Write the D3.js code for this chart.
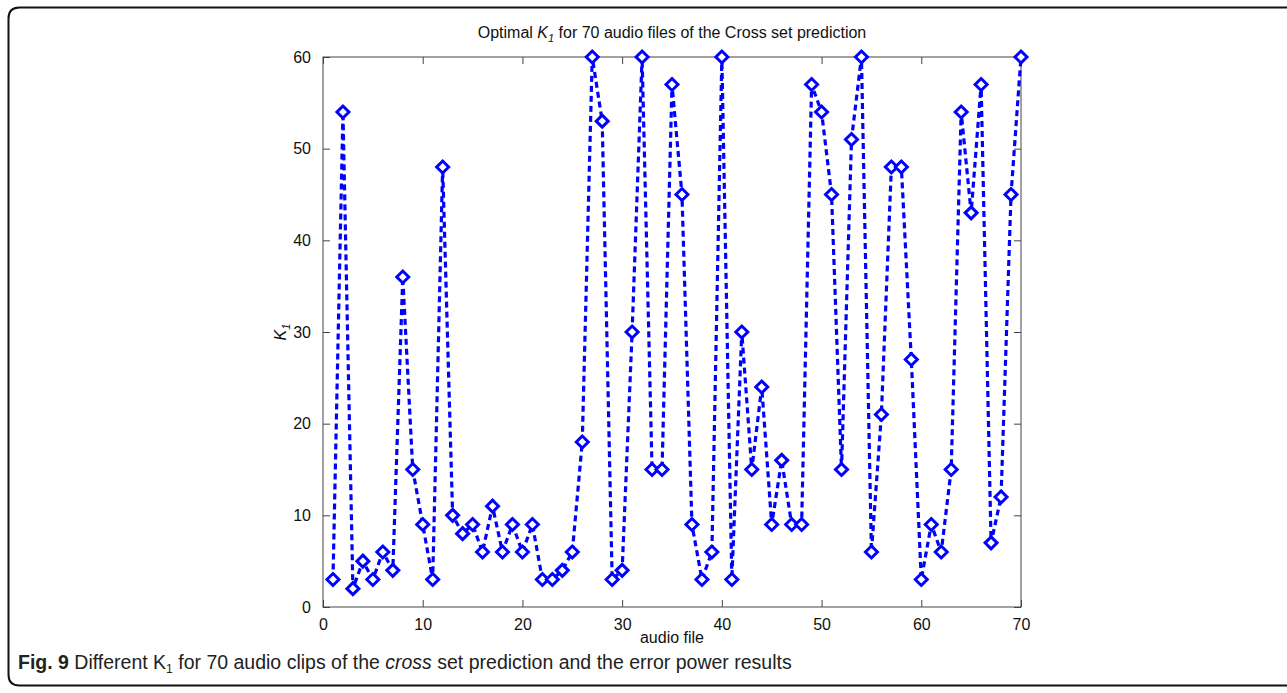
<!DOCTYPE html>
<html>
<head>
<meta charset="utf-8">
<script src="https://cdn.jsdelivr.net/npm/d3@7/dist/d3.min.js"></script>
<style>
  html, body { margin: 0; padding: 0; background: #fff; }
  svg { display: block; }
</style>
</head>
<body>
<svg id="chart" width="1287" height="693"></svg>
<script>
const audioFiles = d3.range(1, 71);
const k1Values = [3, 54, 2, 5, 3, 6, 4, 36, 15, 9,
                  3, 48, 10, 8, 9, 6, 11, 6, 9, 6,
                  9, 3, 3, 4, 6, 18, 60, 53, 3, 4,
                  30, 60, 15, 15, 57, 45, 9, 3, 6, 60,
                  3, 30, 15, 24, 9, 16, 9, 9, 57, 54,
                  45, 15, 51, 60, 6, 21, 48, 48, 27, 3,
                  9, 6, 15, 54, 43, 57, 7, 12, 45, 60];
const xTicks = [0, 10, 20, 30, 40, 50, 60, 70];
const yTicks = [0, 10, 20, 30, 40, 50, 60];

const svg = d3.select("#chart");
const L = 323, R = 1021, T = 57, B = 607;
const x = d3.scaleLinear().domain([0, 70]).range([L, R]);
const y = d3.scaleLinear().domain([0, 60]).range([B, T]);
const font = "'Liberation Sans', Arial, sans-serif";
const axisColor = "#444";

// outer figure frame (rounded left corners, open on the right)
const r = 11;
svg.append("path")
  .attr("d", `M 1290 7.5 L ${8.5 + r} 7.5 Q 8.5 7.5 8.5 ${7.5 + r} L 8.5 ${685.5 - r} Q 8.5 685.5 ${8.5 + r} 685.5 L 1290 685.5`)
  .attr("fill", "none").attr("stroke", "#111").attr("stroke-width", 2);

// axes box
svg.append("rect").attr("x", L).attr("y", T).attr("width", R - L).attr("height", B - T)
  .attr("fill", "none").attr("stroke", axisColor).attr("stroke-width", 1);

const tickLen = 7;
const xb = svg.append("g").attr("transform", `translate(0,${B})`)
  .call(d3.axisBottom(x).tickValues(xTicks).tickSize(-tickLen).tickPadding(tickLen + 5).tickFormat(d3.format("d")));
const xt = svg.append("g").attr("transform", `translate(0,${T})`)
  .call(d3.axisTop(x).tickValues(xTicks).tickSize(-tickLen).tickFormat(""));
const yl = svg.append("g").attr("transform", `translate(${L},0)`)
  .call(d3.axisLeft(y).tickValues(yTicks).tickSize(-tickLen).tickPadding(tickLen + 5).tickFormat(d3.format("d")));
const yr = svg.append("g").attr("transform", `translate(${R},0)`)
  .call(d3.axisRight(y).tickValues(yTicks).tickSize(-tickLen).tickFormat(""));
[xb, xt, yl, yr].forEach(g => {
  g.select(".domain").remove();
  g.selectAll(".tick line").attr("stroke", axisColor);
  g.selectAll(".tick text").attr("fill", "#111").style("font-family", font).style("font-size", "16px");
});

// line
const line = d3.line().x((d, i) => x(audioFiles[i])).y(d => y(d));
svg.append("path").datum(k1Values)
  .attr("d", line)
  .attr("fill", "none").attr("stroke", "#0000ff").attr("stroke-width", 3.2)
  .attr("stroke-dasharray", "6,4").attr("stroke-linejoin", "round");

// diamond markers
const dsize = 6;
svg.append("g").selectAll("path.m").data(k1Values).join("path")
  .attr("class", "m")
  .attr("d", (d, i) => {
    const cx = x(audioFiles[i]), cy = y(d);
    return `M ${cx} ${cy - dsize} L ${cx + dsize} ${cy} L ${cx} ${cy + dsize} L ${cx - dsize} ${cy} Z`;
  })
  .attr("fill", "#fff").attr("stroke", "#0000ff").attr("stroke-width", 3);

// title
const title = svg.append("text").attr("x", (L + R) / 2).attr("y", 38)
  .attr("text-anchor", "middle").style("font-family", font).style("font-size", "16px").attr("fill", "#111");
title.append("tspan").text("Optimal ");
title.append("tspan").text("K").style("font-style", "italic");
title.append("tspan").text("1").style("font-style", "italic").style("font-size", "11px").attr("dy", 4);
title.append("tspan").text(" for 70 audio files of the Cross set prediction").attr("dy", -4);

// x label
svg.append("text").attr("x", (L + R) / 2).attr("y", 643)
  .attr("text-anchor", "middle").style("font-family", font).style("font-size", "16px").attr("fill", "#111")
  .text("audio file");

// y label
const yLab = svg.append("text").attr("transform", `translate(286,${(T + B) / 2}) rotate(-90)`)
  .attr("text-anchor", "middle").style("font-family", font).style("font-size", "16px").attr("fill", "#111");
yLab.append("tspan").text("K").style("font-style", "italic");
yLab.append("tspan").text("1").style("font-style", "italic").style("font-size", "11px").attr("dy", 4);

// caption
const cap = svg.append("text").attr("x", 18).attr("y", 669)
  .style("font-family", font)
  .style("font-size", "19.5px").attr("fill", "#222");
cap.append("tspan").text("Fig. 9").style("font-weight", "bold");
cap.append("tspan").text(" Different K");
cap.append("tspan").text("1").style("font-size", "12px").attr("dy", 4);
cap.append("tspan").text(" for 70 audio clips of the ").attr("dy", -4);
cap.append("tspan").text("cross").style("font-style", "italic");
cap.append("tspan").text(" set prediction and the error power results");
</script>
</body>
</html>
